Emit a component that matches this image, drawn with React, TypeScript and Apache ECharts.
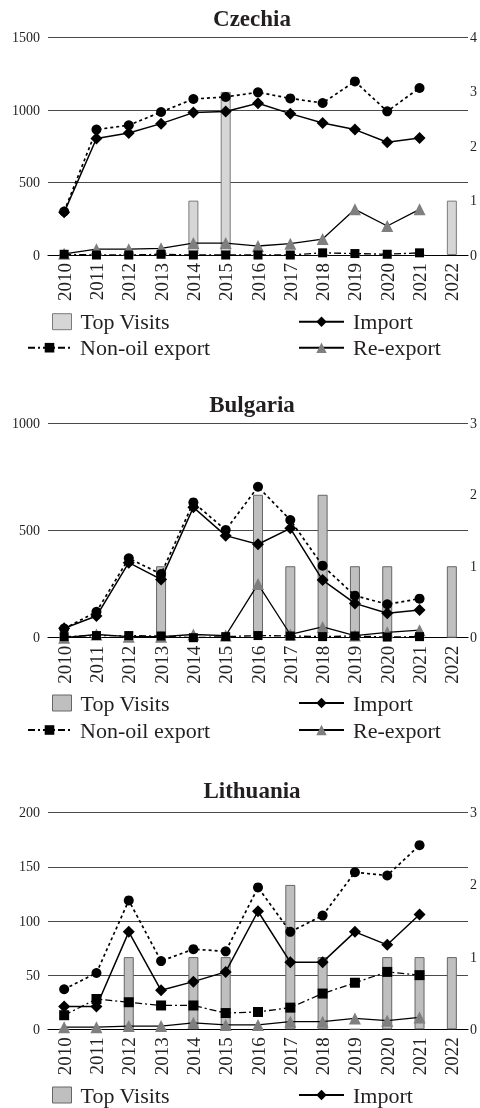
import React, { useEffect, useRef } from 'react';
import * as echarts from 'echarts';

const years = ['2010', '2011', '2012', '2013', '2014', '2015', '2016', '2017', '2018', '2019', '2020', '2021', '2022'];

// Czechia
const czTopVisits = [0, 0, 0, 0, 1, 3, 0, 0, 0, 0, 0, 0, 1];
const czTotal = [300, 865, 895, 986, 1076, 1090, 1122, 1080, 1048, 1197, 991, 1152];
const czImport = [294, 803, 842, 906, 982, 989, 1046, 975, 911, 865, 778, 807];
const czNonOil = [5, 0, 0, 5, 0, 0, 0, 0, 15, 10, 5, 15];
const czReExport = [8, 40, 40, 46, 82, 82, 62, 78, 110, 315, 200, 315];

// Bulgaria
const bgTopVisits = [0, 0, 0, 1, 0, 0, 2, 1, 2, 1, 1, 0, 1];
const bgTotal = [42, 121, 370, 297, 631, 502, 704, 549, 336, 196, 156, 182];
const bgImport = [44, 101, 350, 272, 608, 476, 436, 510, 269, 160, 114, 129];
const bgNonOil = [5, 10, 10, 8, 0, 5, 10, 8, 5, 8, 3, 5];
const bgReExport = [0, 15, 5, 5, 15, 10, 250, 15, 50, 10, 25, 35];

// Lithuania
const ltTopVisits = [0, 0, 1, 0, 1, 1, 0, 2, 1, 0, 1, 1, 1];
const ltTotal = [37, 52, 119, 63, 74, 72, 131, 90, 105, 145, 142, 170];
const ltImport = [21, 21, 90, 36, 44, 53, 109, 62, 62, 90, 78, 106];
const ltNonOil = [13, 28, 25, 22, 22, 15, 16, 20, 33, 43, 53, 50];
const ltReExport = [2, 2, 3, 3, 6, 4, 4, 7, 7, 10, 8, 11];

const leftTicksCz = [0, 1500, 500];
const leftTicksBg = [0, 1000, 500];
const leftTicksLt = [0, 200, 50];
const rightMaxes = [4, 3, 3];

const FONT = 'Liberation Serif';
const INK = '#231f20';

const panels = [
  {
    title: 'Czechia', titleTop: 7, top: 37.5, height: 217.5,
    left: leftTicksCz, rightMax: rightMaxes[0],
    visits: czTopVisits, total: czTotal, imp: czImport, nonOil: czNonOil, reExp: czReExport,
    barColor: '#d6d6d6', barBorder: '#7a7a7a', legendTops: [310.7, 336.7], squareSize: 9,
  },
  {
    title: 'Bulgaria', titleTop: 393, top: 423.3, height: 214.4,
    left: leftTicksBg, rightMax: rightMaxes[1],
    visits: bgTopVisits, total: bgTotal, imp: bgImport, nonOil: bgNonOil, reExp: bgReExport,
    barColor: '#bfbfbf', barBorder: '#666666', legendTops: [692, 719], squareSize: 9,
  },
  {
    title: 'Lithuania', titleTop: 779, top: 812.7, height: 216.6,
    left: leftTicksLt, rightMax: rightMaxes[2],
    visits: ltTopVisits, total: ltTotal, imp: ltImport, nonOil: ltNonOil, reExp: ltReExport,
    barColor: '#bfbfbf', barBorder: '#666666', legendTops: [1084], squareSize: 10,
  },
];

function buildOption() {
  const title: any[] = [];
  const grid: any[] = [];
  const xAxis: any[] = [];
  const yAxis: any[] = [];
  const series: any[] = [];
  const legend: any[] = [];

  const legendText = { fontFamily: FONT, fontSize: 22, fontWeight: 'normal', color: INK, padding: [0, 0, 0, 4] };
  const plain = (v: number) => String(v);

  panels.forEach((p, i) => {
    title.push({
      text: p.title, left: 252, top: p.titleTop, textAlign: 'center', padding: 0,
      textStyle: { fontFamily: FONT, fontSize: 23, fontWeight: 'bold', color: INK },
    });
    grid.push({ left: 48, right: 10, top: p.top, height: p.height, containLabel: false });
    xAxis.push({
      type: 'category', gridIndex: i, data: years, boundaryGap: true,
      axisLine: { show: true, lineStyle: { color: '#000', width: 1.2 } },
      axisTick: { show: false },
      axisLabel: { interval: 0, rotate: 90, margin: 8, fontFamily: FONT, fontSize: 19, fontWeight: 'normal', color: INK },
      splitLine: { show: false },
    });
    yAxis.push({
      type: 'value', gridIndex: i, min: p.left[0], max: p.left[1], interval: p.left[2],
      axisLine: { show: false }, axisTick: { show: false },
      axisLabel: { margin: 8, fontFamily: FONT, fontSize: 14, fontWeight: 'normal', color: INK, formatter: plain },
      splitLine: { show: true, lineStyle: { color: '#4a4a4a', width: 1 } },
    });
    yAxis.push({
      type: 'value', gridIndex: i, position: 'right', min: 0, max: p.rightMax, interval: 1,
      axisLine: { show: false }, axisTick: { show: false },
      axisLabel: { margin: 2, fontFamily: FONT, fontSize: 14, fontWeight: 'normal', color: INK, formatter: plain },
      splitLine: { show: false },
    });
    const xi = i;
    const yl = i * 2;
    const yr = i * 2 + 1;
    series.push({
      name: 'Top Visits', type: 'bar', xAxisIndex: xi, yAxisIndex: yr, data: p.visits,
      barWidth: 10, z: 1,
      itemStyle: { color: p.barColor, borderColor: p.barBorder, borderWidth: 1 },
    });
    series.push({
      name: 'Re-export', type: 'line', xAxisIndex: xi, yAxisIndex: yl, data: p.reExp,
      symbol: 'triangle', symbolSize: 12, z: 3,
      lineStyle: { color: '#000', width: 1.3, type: 'solid' },
      itemStyle: { color: '#7f7f7f' },
    });
    series.push({
      name: 'Non-oil export', type: 'line', xAxisIndex: xi, yAxisIndex: yl, data: p.nonOil,
      symbol: 'rect', symbolSize: p.squareSize, z: 4,
      lineStyle: { color: '#000', width: 1.3, type: [7, 3, 2, 3] },
      itemStyle: { color: '#000' },
    });
    series.push({
      name: 'Total trade', type: 'line', xAxisIndex: xi, yAxisIndex: yl, data: p.total,
      symbol: 'circle', symbolSize: 10, z: 5,
      lineStyle: { color: '#000', width: 1.7, type: [3, 3] },
      itemStyle: { color: '#000' },
    });
    series.push({
      name: 'Import', type: 'line', xAxisIndex: xi, yAxisIndex: yl, data: p.imp,
      symbol: 'diamond', symbolSize: 12, z: 6,
      lineStyle: { color: '#000', width: 1.5, type: 'solid' },
      itemStyle: { color: '#000' },
    });

    const base = { orient: 'horizontal', padding: 0, selectedMode: false, textStyle: legendText };
    legend.push({
      ...base, left: 52, top: p.legendTops[0], itemWidth: 19, itemHeight: 16,
      data: [{ name: 'Top Visits', icon: 'rect', itemStyle: { color: p.barColor, borderColor: p.barBorder, borderWidth: 1 } }],
    });
    legend.push({
      ...base, left: 298, top: p.legendTops[0], itemWidth: 45, itemHeight: 13,
      data: ['Import'],
    });
    if (p.legendTops.length > 1) {
      legend.push({
        ...base, left: 27, top: p.legendTops[1], itemWidth: 43, itemHeight: 12,
        data: ['Non-oil export'],
      });
      legend.push({
        ...base, left: 298, top: p.legendTops[1], itemWidth: 45, itemHeight: 13,
        data: ['Re-export'],
      });
    }
  });

  return {
    animation: false,
    title, grid, xAxis, yAxis, series, legend,
  };
}

export default function App() {
  const ref = useRef<HTMLDivElement>(null);
  useEffect(() => {
    const chart = echarts.init(ref.current as HTMLDivElement, undefined, { renderer: 'svg' });
    chart.setOption(buildOption() as any);
    return () => chart.dispose();
  }, []);
  return <div ref={ref} style={{ position: 'fixed', left: 0, top: 0, width: 480, height: 1108 }} />;
}
